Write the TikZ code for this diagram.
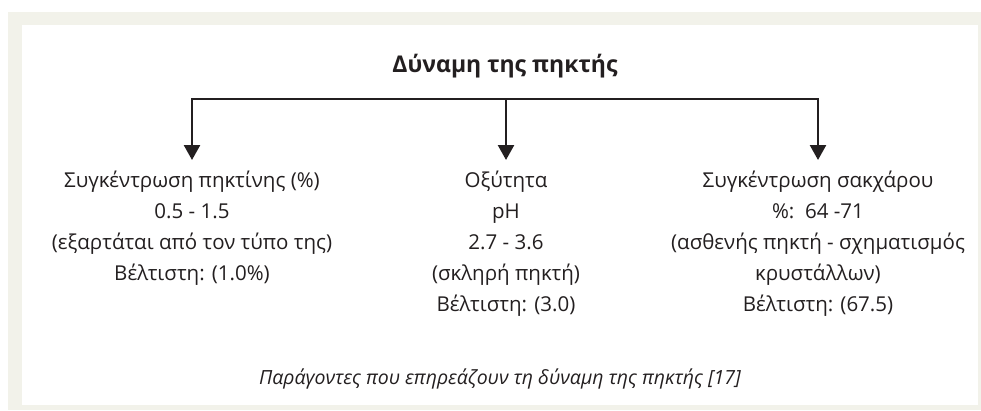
\documentclass[tikz,border=0pt]{standalone}
\usepackage{fontspec}
\setmainfont{Open Sans}
\usetikzlibrary{arrows.meta}
\definecolor{framebeige}{HTML}{F2F2EA}
\definecolor{inkgrey}{HTML}{231F20}

\begin{document}
\begin{tikzpicture}[
            x = 1pt, y = -1pt, % one unit per pixel, downwards
            > = {Triangle[width=16pt, length=15pt]}, % arrow head style
            line width = 2.5pt,
            color = inkgrey
        ]

        \tikzstyle{factor}=[
            align = center,
            anchor = north,
            inner xsep = 0pt,
            inner ysep = 5pt,
            font = \fontsize{20.5}{31}\selectfont
        ]

        \useasboundingbox (0,0) rectangle (981,410);
        \fill[framebeige] (8,12) rectangle (981,410);
        \fill[white] (22,25) rectangle (978,405);

        \node[font=\fontsize{23}{28}\selectfont\bfseries, anchor=base] (title) at (505,72) {Δύναμη της πηκτής};
        \coordinate (split) at (506,99);

        \node[factor] (pectin) at (192,160) {\strut Συγκέντρωση πηκτίνης (\%)\\0.5 - 1.5\\(εξαρτάται από τον τύπο της)\\Βέλτιστη: (1.0\%)};
        \node[factor] (acidity) at (506,160) {\strut Οξύτητα\\pH\\2.7 - 3.6\\(σκληρή πηκτή)\\Βέλτιστη: (3.0)};
        \node[factor] (sugar) at (818,160) {\strut Συγκέντρωση σακχάρου\\\%:\ \ 64 -71\\(ασθενής πηκτή - σχηματισμός\\κρυστάλλων)\\Βέλτιστη: (67.5)};

        \path[->] (split) edge[to path={-| (\tikztotarget)}] (pectin);
        \path[->] (split) edge (acidity);
        \path[->] (split) edge[to path={-| (\tikztotarget)}] (sugar);

        \node[font=\fontsize{19.5}{24}\selectfont\itshape, anchor=base] (caption) at (500,384) {Παράγοντες που επηρεάζουν τη δύναμη της πηκτής [17]};
     \end{tikzpicture}
\end{document}
